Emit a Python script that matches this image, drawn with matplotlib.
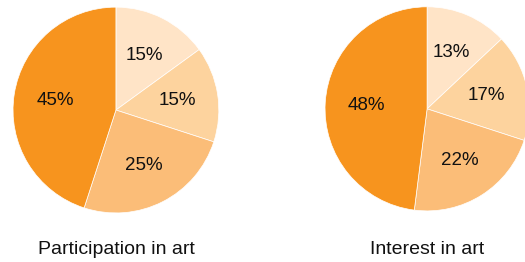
import matplotlib.pyplot as plt

plt.rcParams['font.family'] = ['Liberation Sans', 'DejaVu Sans']

# data
titles = ["Participation in art", "Interest in art"]
participation = [15, 15, 25, 45]
interest = [13, 17, 22, 48]
colors = ["#FFE4C7", "#FDD39E", "#FBBD78", "#F7941E"]

fig = plt.figure(figsize=(5.25, 2.62), dpi=100)

# axes boxes picked to match pie positions
boxes = [[0.0248, 0.187, 0.392, 0.786], [0.619, 0.195, 0.389, 0.779]]
title_x = [116 / 525, 427 / 525]

for vals, box, title, tx in zip([participation, interest], boxes, titles, title_x):
    ax = fig.add_axes(box)
    ax.pie(vals, colors=colors, startangle=90, counterclock=False,
           autopct=lambda p: f"{p:.0f}%", pctdistance=0.6,
           wedgeprops=dict(edgecolor="white", linewidth=0.5),
           textprops=dict(fontsize=13.5, color="#111111"))
    ax.set_xlim(-1, 1)
    ax.set_ylim(-1, 1)
    ax.set_aspect("equal")
    fig.text(tx, 1 - 250 / 262, title, ha="center", va="center",
             fontsize=14, color="#111111")

fig.savefig("out.png", dpi=100)
